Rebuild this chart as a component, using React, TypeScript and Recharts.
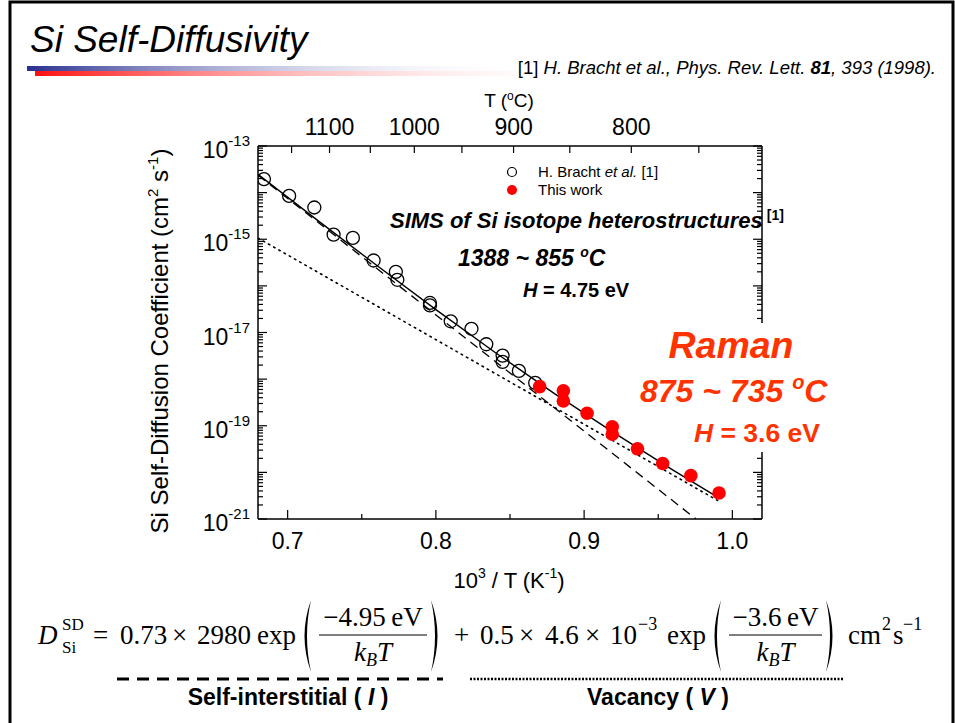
import { ScatterChart, Scatter, XAxis, YAxis } from "recharts";

// 1000/T (1/K) and D (cm^2/s) for the tracer data of Bracht et al.
const brachtX = [0.684, 0.701, 0.718, 0.731, 0.744, 0.758, 0.773, 0.774, 0.796, 0.796, 0.81, 0.824, 0.834, 0.845, 0.845, 0.856, 0.867];
const brachtD = [1.95e-14, 8.5e-15, 4.8e-15, 1.26e-15, 1.07e-15, 3.5e-16, 2.0e-16, 1.35e-16, 4.3e-17, 3.8e-17, 1.74e-17, 1.2e-17, 5.6e-18, 3.2e-18, 2.35e-18, 1.5e-18, 8.3e-19];

// Raman results
const ramanX = [0.87, 0.886, 0.886, 0.902, 0.919, 0.919, 0.936, 0.953, 0.972, 0.991];
const ramanD = [6.9e-19, 5.6e-19, 3.4e-19, 1.86e-19, 9.5e-20, 6.6e-20, 3.2e-20, 1.55e-20, 8.5e-21, 3.6e-21];

// fitted curves: total, interstitial part, vacancy part
const totalX = [0.68, 0.72, 0.76, 0.8, 0.84, 0.88, 0.92, 0.96, 0.99];
const totalD = [2.47e-14, 2.57e-15, 2.76e-16, 3.1e-17, 3.73e-18, 4.9e-19, 7.1e-20, 1.12e-20, 2.94e-21];
const interstitialX = [0.68, 0.9755];
const interstitialD = [2.36e-14, 1.0e-21];
const vacancyX = [0.68, 0.99];
const vacancyD = [1.06e-15, 2.5e-21];

// axes
const xTicks = [0.7, 0.75, 0.8, 0.85, 0.9, 0.95, 1.0];
const xLabels = [0.7, 0.8, 0.9, 1.0];
const celsiusTicks = [1150, 1100, 1050, 1000, 950, 900, 850, 800, 750];
const celsiusLabels = [1100, 1000, 900, 800];
const decades = [-21, -20, -19, -18, -17, -16, -15, -14, -13];

const zip = (xs: number[], ys: number[]) => xs.map((x, i) => ({ x, y: ys[i] }));
const bracht = zip(brachtX, brachtD);
const raman = zip(ramanX, ramanD);
const total = zip(totalX, totalD);
const interstitial = zip(interstitialX, interstitialD);
const vacancy = zip(vacancyX, vacancyD);

const yTicks: number[] = [];
decades.forEach((e) => {
  yTicks.push(Number(`1e${e}`));
  if (e < -13) for (let m = 2; m <= 9; m++) yTicks.push(Number(`${m}e${e}`));
});
const topTicks = celsiusTicks.map((c) => 1000 / (c + 273.15));

const SANS = "Liberation Sans, Arial, Helvetica, sans-serif";
const SERIF = "Liberation Serif, DejaVu Serif, serif";
const RED = "#ff3300";

const isDecade = (v: number) => {
  const e = Math.log10(v);
  return Math.abs(e - Math.round(e)) < 1e-6;
};

const LeftTick = (p: any) => {
  const v = p.payload.value;
  const major = isDecade(v);
  const ex = Math.round(Math.log10(v));
  return (
    <g>
      <line x1={p.x} y1={p.y} x2={p.x + (major ? 9 : 5)} y2={p.y} stroke="#000" strokeWidth={1.2} />
      {major && ex % 2 !== 0 && (
        <text x={p.x - 8} y={p.y + 12} textAnchor="end" fontFamily={SANS} fontSize={23} fill="#000">
          10<tspan dy={-12} fontSize={15}>{ex}</tspan>
        </text>
      )}
    </g>
  );
};

const RightTick = (p: any) => {
  const major = isDecade(p.payload.value);
  return <line x1={p.x} y1={p.y} x2={p.x - (major ? 9 : 5)} y2={p.y} stroke="#000" strokeWidth={1.2} />;
};

const BottomTick = (p: any) => {
  const v = p.payload.value;
  const major = xLabels.some((l) => Math.abs(l - v) < 1e-6);
  return (
    <g>
      <line x1={p.x} y1={p.y} x2={p.x} y2={p.y - (major ? 9 : 5)} stroke="#000" strokeWidth={1.2} />
      {major && (
        <text x={p.x} y={p.y + 30} textAnchor="middle" fontFamily={SANS} fontSize={23} fill="#000">
          {v.toFixed(1)}
        </text>
      )}
    </g>
  );
};

const TopTick = (p: any) => {
  const idx = topTicks.findIndex((t) => Math.abs(t - p.payload.value) < 1e-9);
  const c = celsiusTicks[idx];
  return (
    <g>
      <line x1={p.x} y1={p.y} x2={p.x} y2={p.y + 7} stroke="#000" strokeWidth={1.2} />
      {celsiusLabels.includes(c) && (
        <text x={p.x} y={p.y - 11} textAnchor="middle" fontFamily={SANS} fontSize={23} fill="#000">
          {c}
        </text>
      )}
    </g>
  );
};

const OpenCircle = (p: any) => <circle cx={p.cx} cy={p.cy} r={6.5} fill="none" stroke="#000" strokeWidth={1.3} />;
const RedDot = (p: any) => <circle cx={p.cx} cy={p.cy} r={6.8} fill="#ff0000" />;
const NoDot = () => <g />;

// big parentheses for the formula
const paren = (x: number, left: boolean, top = 600, bot = 672) => {
  const mid = (top + bot) / 2;
  if (left)
    return <path d={`M${x + 9} ${top} Q${x - 4} ${mid} ${x + 9} ${bot} Q${x + 1} ${mid} ${x + 9} ${top} Z`} fill="#000" />;
  return <path d={`M${x} ${top} Q${x + 13} ${mid} ${x} ${bot} Q${x + 8} ${mid} ${x} ${top} Z`} fill="#000" />;
};

const Fraction = ({ x1, x2, num }: { x1: number; x2: number; num: string }) => {
  const cx = (x1 + x2) / 2;
  return (
    <g fontFamily={SERIF} fill="#000">
      <text x={cx} y={626} textAnchor="middle" fontSize={27}>{num}</text>
      <line x1={x1} y1={635} x2={x2} y2={635} stroke="#000" strokeWidth={1.2} />
      <text x={cx} y={661} textAnchor="middle" fontSize={27}>
        <tspan fontStyle="italic">k</tspan>
        <tspan fontStyle="italic" fontSize={18} dy={5}>B</tspan>
        <tspan fontStyle="italic" dy={-5}>T</tspan>
      </text>
    </g>
  );
};

export default function App() {
  return (
    <div style={{ position: "absolute", left: 0, top: 0, width: 955, height: 723, background: "#fff", overflow: "hidden" }}>
      <ScatterChart width={955} height={723} margin={{ top: 116, right: 183, bottom: 174, left: 198 }}>
        <XAxis xAxisId="b" type="number" dataKey="x" domain={[0.68, 1.02]} allowDataOverflow ticks={xTicks} interval={0}
          height={30} tickSize={0} tickMargin={0} tickLine={false} axisLine={{ stroke: "#000", strokeWidth: 1.5 }} tick={BottomTick} />
        <XAxis xAxisId="t" orientation="top" type="number" dataKey="x" domain={[0.68, 1.02]} allowDataOverflow ticks={topTicks} interval={0}
          height={30} tickSize={0} tickMargin={0} tickLine={false} axisLine={{ stroke: "#000", strokeWidth: 1.5 }} tick={TopTick} />
        <YAxis yAxisId="l" type="number" dataKey="y" scale="log" domain={[1e-21, 1e-13]} allowDataOverflow ticks={yTicks} interval={0}
          width={60} tickSize={0} tickMargin={0} tickLine={false} axisLine={{ stroke: "#000", strokeWidth: 1.5 }} tick={LeftTick} />
        <YAxis yAxisId="r" orientation="right" type="number" dataKey="y" scale="log" domain={[1e-21, 1e-13]} allowDataOverflow ticks={yTicks} interval={0}
          width={10} tickSize={0} tickMargin={0} tickLine={false} axisLine={{ stroke: "#000", strokeWidth: 1.5 }} tick={RightTick} />

        <Scatter xAxisId="b" yAxisId="l" data={vacancy} shape={NoDot} isAnimationActive={false}
          line={{ stroke: "#000", strokeWidth: 1.6, strokeDasharray: "1.5 4.5", strokeLinecap: "round" }} />
        <Scatter xAxisId="b" yAxisId="l" data={interstitial} shape={NoDot} isAnimationActive={false}
          line={{ stroke: "#000", strokeWidth: 1.3, strokeDasharray: "9 6" }} />
        <Scatter xAxisId="b" yAxisId="l" data={total} shape={NoDot} isAnimationActive={false}
          line={{ stroke: "#000", strokeWidth: 1.4 }} />
        <Scatter xAxisId="b" yAxisId="l" data={bracht} shape={OpenCircle} isAnimationActive={false} />
        <Scatter xAxisId="b" yAxisId="l" data={raman} shape={RedDot} isAnimationActive={false} />
      </ScatterChart>

      <svg width={955} height={723} style={{ position: "absolute", left: 0, top: 0, pointerEvents: "none" }}>
        <defs>
          <linearGradient id="barBlue" x1="0" x2="1" y1="0" y2="0">
            <stop offset="0" stopColor="#2b2f8f" />
            <stop offset="1" stopColor="#ffffff" stopOpacity={0} />
          </linearGradient>
          <linearGradient id="barRed" x1="0" x2="1" y1="0" y2="0">
            <stop offset="0" stopColor="#ff1010" />
            <stop offset="1" stopColor="#ffffff" stopOpacity={0} />
          </linearGradient>
        </defs>

        {/* slide frame, title and header bar */}
        <path d="M10 740 V2 H953 V740" fill="none" stroke="#000" strokeWidth={3} />
        <text x={30} y={52} fontFamily={SANS} fontSize={37} fontStyle="italic" fill="#000">Si Self-Diffusivity</text>
        <rect x={27} y={66} width={500} height={5} fill="url(#barBlue)" />
        <rect x={35} y={71} width={560} height={5} fill="url(#barRed)" />
        <text x={936} y={74} textAnchor="end" fontFamily={SANS} fontSize={18.5} fill="#000">
          {"[1] "}
          <tspan fontStyle="italic">H. Bracht et al., Phys. Rev. Lett. </tspan>
          <tspan fontStyle="italic" fontWeight="bold">81</tspan>
          <tspan fontStyle="italic">, 393 (1998).</tspan>
        </text>

        {/* axis titles */}
        <text x={509} y={107} textAnchor="middle" fontFamily={SANS} fontSize={19} fill="#000">
          T (<tspan dy={-7} fontSize={12}>o</tspan><tspan dy={7}>C)</tspan>
        </text>
        <text x={509} y={588} textAnchor="middle" fontFamily={SANS} fontSize={22} fill="#000">
          10<tspan dy={-10} fontSize={14}>3</tspan><tspan dy={10}> / T (K</tspan>
          <tspan dy={-10} fontSize={14}>-1</tspan><tspan dy={10}>)</tspan>
        </text>
        <text transform="translate(168,341) rotate(-90)" textAnchor="middle" fontFamily={SANS} fontSize={24} fill="#000">
          Si Self-Diffusion Coefficient (cm<tspan dy={-10} fontSize={15}>2</tspan>
          <tspan dy={10}> s</tspan><tspan dy={-10} fontSize={15}>-1</tspan><tspan dy={10}>)</tspan>
        </text>

        {/* legend */}
        <circle cx={512} cy={172} r={4.5} fill="none" stroke="#000" strokeWidth={1.2} />
        <text x={538} y={177} fontFamily={SANS} fontSize={15} fill="#000">
          {"H. Bracht "}<tspan fontStyle="italic">et al.</tspan>{" [1]"}
        </text>
        <circle cx={512} cy={190} r={5} fill="#ff0000" />
        <text x={538} y={195} fontFamily={SANS} fontSize={15} fill="#000">This work</text>

        {/* annotations */}
        <text x={390} y={228} fontFamily={SANS} fontSize={22} fontWeight="bold" fontStyle="italic" fill="#000">
          SIMS of Si isotope heterostructures<tspan dx={4} dy={-8} fontSize={14} fontStyle="normal">[1]</tspan>
        </text>
        <text x={458} y={266} fontFamily={SANS} fontSize={23} fontWeight="bold" fontStyle="italic" fill="#000">
          1388 ~ 855 <tspan dy={-9} fontSize={14}>o</tspan><tspan dy={9}>C</tspan>
        </text>
        <text x={523} y={297} fontFamily={SANS} fontSize={20} fontWeight="bold" fill="#000">
          <tspan fontStyle="italic">H</tspan> = 4.75 eV
        </text>
        {/* white text box over the right frame */}
        <rect x={634} y={323} width={204} height={88} fill="#fff" />
        <rect x={688} y={410} width={150} height={42} fill="#fff" />
        <text x={731} y={358} textAnchor="middle" fontFamily={SANS} fontSize={37.5} fontWeight="bold" fontStyle="italic" fill={RED}>Raman</text>
        <text x={640} y={402} fontFamily={SANS} fontSize={32} fontWeight="bold" fontStyle="italic" fill={RED}>
          875 ~ 735 <tspan dy={-13} fontSize={20}>o</tspan><tspan dy={13}>C</tspan>
        </text>
        <text x={694} y={442} fontFamily={SANS} fontSize={26.5} fontWeight="bold" fill={RED}>
          <tspan fontStyle="italic">H</tspan> = 3.6 eV
        </text>

        {/* diffusivity formula */}
        <g fontFamily={SERIF} fontSize={27} fill="#000">
          <text x={38} y={644} fontStyle="italic">D</text>
          <text x={62} y={630} fontSize={17}>SD</text>
          <text x={62} y={653} fontSize={17}>Si</text>
          <text x={93} y={644}>=</text>
          <text x={120} y={644}>0.73</text>
          <text x={172} y={644}>×</text>
          <text x={197} y={644}>2980</text>
          <text x={257} y={644}>exp</text>
          {paren(302, true)}
          <Fraction x1={319} x2={427} num={"\u22124.95\u2009eV"} />
          {paren(431, false)}
          <text x={454} y={644}>+</text>
          <text x={480} y={644}>0.5</text>
          <text x={519} y={644}>×</text>
          <text x={545} y={644}>4.6</text>
          <text x={585} y={644}>×</text>
          <text x={610} y={644}>10</text>
          <text x={638} y={630} fontSize={18}>{"\u22123"}</text>
          <text x={667} y={644}>exp</text>
          {paren(712, true)}
          <Fraction x1={729} x2={822} num={"\u22123.6\u2009eV"} />
          {paren(826, false)}
          <text x={848} y={644}>cm</text>
          <text x={882} y={630} fontSize={18}>2</text>
          <text x={893} y={644}>s</text>
          <text x={903} y={630} fontSize={18}>{"\u22121"}</text>
        </g>
        <line x1={117} y1={679} x2={443} y2={679} stroke="#000" strokeWidth={3} strokeDasharray="12 8" />
        <line x1={470} y1={679} x2={843} y2={679} stroke="#000" strokeWidth={2.5} strokeDasharray="2 1.5" />
        <text x={288} y={705} textAnchor="middle" fontFamily={SANS} fontSize={23} fontWeight="bold" fill="#000">
          Self-interstitial ( <tspan fontStyle="italic">I</tspan> )
        </text>
        <text x={658} y={705} textAnchor="middle" fontFamily={SANS} fontSize={23} fontWeight="bold" fill="#000">
          Vacancy ( <tspan fontStyle="italic">V</tspan> )
        </text>
      </svg>
    </div>
  );
}
